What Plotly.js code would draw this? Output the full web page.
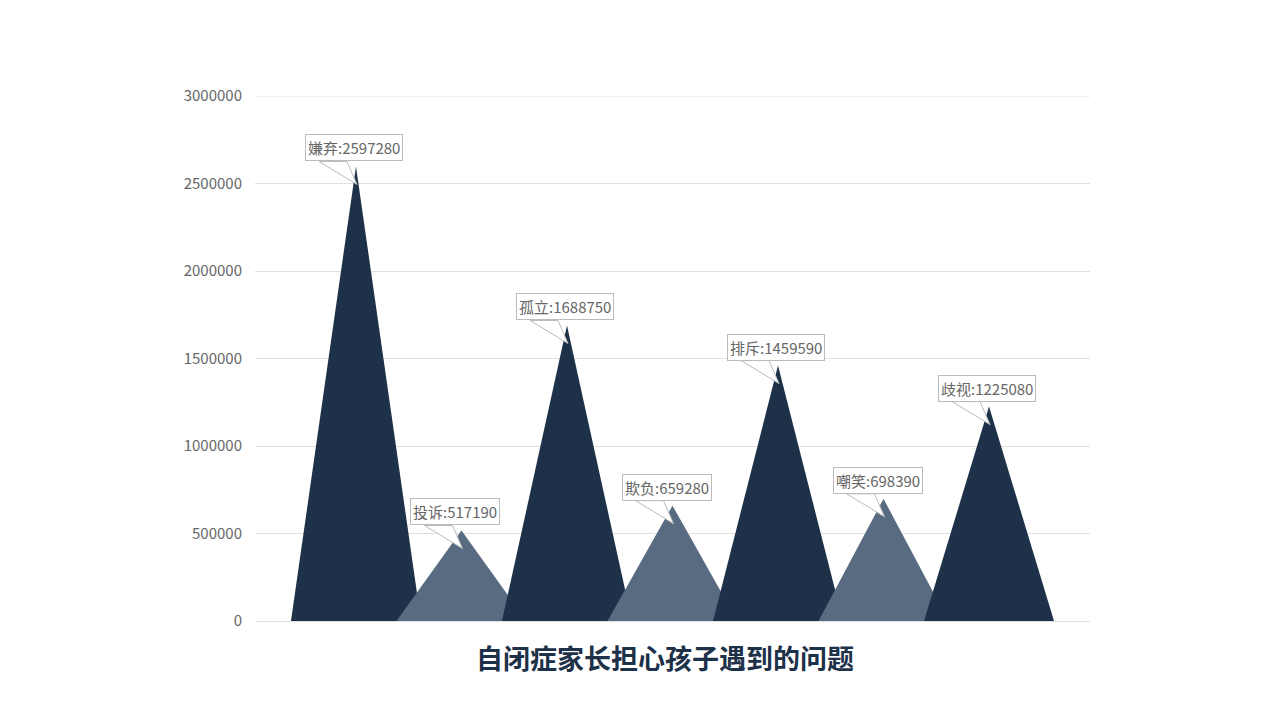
<!DOCTYPE html>
<html>
<head>
<meta charset="utf-8">
<script src="https://cdn.plot.ly/plotly-3.0.1.min.js"></script>
<style>
  html, body { margin: 0; padding: 0; background: #fff; }
  #chart { width: 1280px; height: 720px; }
</style>
</head>
<body>
<div id="chart"></div>
<script>
// Dữ liệu biểu đồ
var categories = ['嫌弃', '投诉', '孤立', '欺负', '排斥', '嘲笑', '歧视'];
var values = [2597280, 517190, 1688750, 659280, 1459590, 698390, 1225080];
var yTicks = [0, 500000, 1000000, 1500000, 2000000, 2500000, 3000000];

var darkColor = '#1d3149';
var lightColor = '#586b80';
var halfWidth = 0.616; // nửa đáy tam giác, theo đơn vị trục x

// Tạo tam giác cho từng cột (vẽ lần lượt, cột sau nằm trên cột trước)
function makeTriangle(i) {
    var v = values[i];
    var color = i % 2 == 0 ? darkColor : lightColor;
    return {
        type: 'scatter',
        mode: 'lines',
        x: [i - halfWidth, i, i + halfWidth, i - halfWidth],
        y: [0, v, 0, 0],
        fill: 'toself',
        fillcolor: color,
        line: { width: 0, color: color },
        hoverinfo: 'skip',
        showlegend: false
    };
}

var traces = [];
for (var i = 0; i < values.length; i++) traces.push(makeTriangle(i));

// Đường lưới trên cùng (Plotly bỏ đường lưới trùng mép vùng vẽ)
var yMax = yTicks[yTicks.length - 1];
var shapes = [{
    type: 'line',
    layer: 'below',
    xref: 'paper', yref: 'y',
    x0: 0, x1: 1, y0: yMax, y1: yMax,
    line: { color: '#e0e0e0', width: 1 }
}];

// Nhãn dạng hộp chú thích có mũi nhọn
var annotations = [];
for (var i = 0; i < values.length; i++) {
    shapes.push({
        type: 'path',
        layer: 'above',
        xref: 'x', yref: 'y',
        xsizemode: 'pixel', ysizemode: 'pixel',
        xanchor: i, yanchor: values[i],
        path: 'M -37,5 L -9,5 L 1,-18 Z',
        fillcolor: '#ffffff',
        line: { color: '#bbbbbb', width: 1 }
    });
    annotations.push({
        x: i, y: values[i],
        xref: 'x', yref: 'y',
        xanchor: 'left', yanchor: 'bottom',
        xshift: -51, yshift: 5,
        text: categories[i] + ':' + values[i],
        showarrow: false,
        font: { family: 'Noto Sans CJK SC, sans-serif', size: 15, color: '#666666' },
        bgcolor: '#ffffff',
        bordercolor: '#bbbbbb',
        borderwidth: 1,
        borderpad: 2
    });
}

var layout = {
    width: 1280,
    height: 720,
    margin: { l: 255, r: 190, t: 96, b: 99 },
    paper_bgcolor: '#ffffff',
    plot_bgcolor: '#ffffff',
    showlegend: false,
    title: {
        text: '<b>自闭症家长担心孩子遇到的问题</b>',
        font: { family: 'Noto Sans CJK SC, sans-serif', size: 27, color: darkColor },
        xref: 'container', yref: 'container',
        x: 665 / 1280, y: 1 - 660 / 720,
        xanchor: 'center', yanchor: 'middle'
    },
    xaxis: {
        range: [-0.957, 6.957],
        showgrid: false,
        zeroline: false,
        showticklabels: false,
        showline: false,
        fixedrange: true
    },
    yaxis: {
        range: [0, yMax],
        tickvals: yTicks,
        ticktext: yTicks.map(String),
        showgrid: true,
        gridcolor: '#e0e0e0',
        gridwidth: 1,
        zeroline: true,
        zerolinecolor: '#e0e0e0',
        zerolinewidth: 1,
        showline: false,
        ticks: '',
        ticklabelstandoff: 12,
        tickfont: { family: 'Noto Sans CJK SC, sans-serif', size: 15, color: '#666666' },
        fixedrange: true
    },
    shapes: shapes,
    annotations: annotations
};

Plotly.newPlot('chart', traces, layout, { displayModeBar: false, staticPlot: true });
</script>
</body>
</html>
